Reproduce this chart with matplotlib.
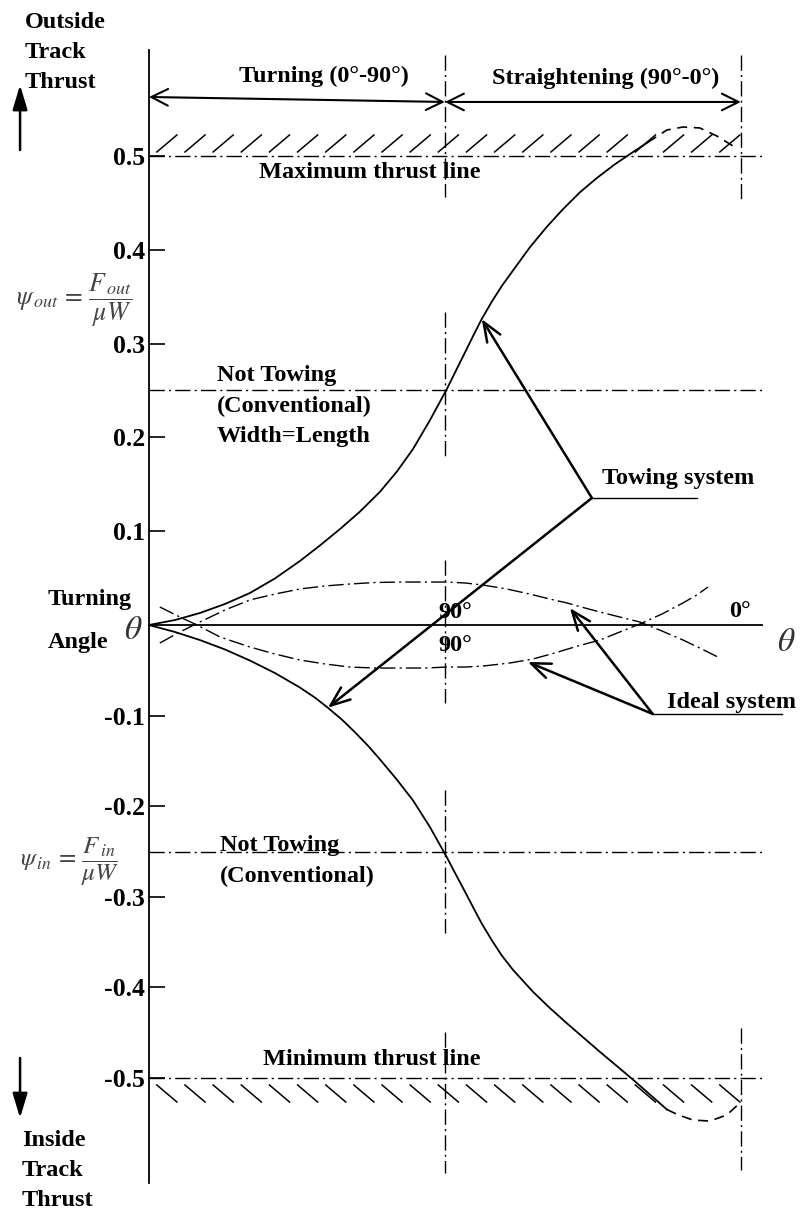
import numpy as np
import matplotlib
matplotlib.use("Agg")
import matplotlib.pyplot as plt

plt.rcParams['font.family'] = ['Liberation Serif', 'DejaVu Serif']
plt.rcParams['mathtext.fontset'] = 'stix'

# theta runs 0-90 while turning, then 90-0 while straightening (plotted as 90-180)
tow_out_x = [0, 7.9, 15.5, 23.1, 30.7, 38.3, 45.9, 52.0, 58.1, 64.2, 70.2, 75.4, 80.3,
             85.4, 90.6, 93.3, 96.1, 98.8, 101.2, 104.3, 107.3, 110.7, 115.8, 121.0,
             125.9, 131.0, 136.2, 141.7, 147.2, 151.7]
tow_out_y = [0, 0.0053, 0.0128, 0.0224, 0.0341, 0.0496, 0.0682, 0.0848, 0.1023, 0.1210,
             0.1418, 0.1636, 0.1876, 0.2180, 0.2516, 0.2708, 0.2905, 0.3097, 0.3262,
             0.3449, 0.3614, 0.3779, 0.4025, 0.4245, 0.4433, 0.4611, 0.4765, 0.4912,
             0.5042, 0.5145]
tow_out_ext_x = [151.7, 157.5, 162.4, 167.5, 172.7, 177.6]
tow_out_ext_y = [0.5145, 0.5277, 0.5309, 0.5299, 0.5213, 0.5107]

tow_in_x = [0, 7.9, 15.5, 23.1, 30.7, 38.3, 45.9, 50.5, 54.4, 58.7, 62.6, 66.6, 70.2,
            75.4, 80.3, 85.4, 90.6, 93.3, 96.1, 98.8, 101.2, 104.3, 107.3, 110.7, 116.8,
            121.9, 127.1, 132.0, 137.1, 142.3, 147.2, 152.3, 157.5]
tow_in_y = [0, -0.0077, -0.0166, -0.0270, -0.0392, -0.0530, -0.0690, -0.0802, -0.0913,
            -0.1045, -0.1182, -0.1332, -0.1481, -0.1707, -0.1936, -0.2227, -0.2565,
            -0.2752, -0.2943, -0.3131, -0.3295, -0.3482, -0.3648, -0.3806, -0.4049,
            -0.4227, -0.4396, -0.4550, -0.4710, -0.4868, -0.5018, -0.5181, -0.5347]
tow_in_ext_x = [157.5, 160.5, 165.4, 170.6, 175.7, 179.7]
tow_in_ext_y = [-0.5347, -0.5400, -0.5464, -0.5475, -0.5408, -0.5276]

ideal_out_x = [3.3, 9.4, 15.5, 23.1, 30.7, 38.3, 45.9, 53.5, 61.1, 68.7, 76.3, 83.9, 90.6,
               96.1, 101.6, 108.8, 115.8, 121.9, 127.1, 132.6, 137.1, 143.2, 149.3, 156.0,
               162.4, 167.5, 173.0]
ideal_out_y = [-0.0199, -0.0077, 0.0032, 0.0160, 0.0267, 0.0330, 0.0384, 0.0416, 0.0437,
               0.0453, 0.0458, 0.0458, 0.0458, 0.0448, 0.0426, 0.0384, 0.0330, 0.0277,
               0.0235, 0.0181, 0.0139, 0.0085, 0.0032, -0.0066, -0.0166, -0.0254, -0.0353]
ideal_in_x = [3.3, 9.4, 14.6, 21.6, 30.7, 38.3, 45.9, 53.5, 61.1, 68.7, 76.3, 83.9, 90.6,
              96.1, 101.6, 109.8, 116.8, 123.4, 130.4, 137.1, 143.2, 149.3, 156.0, 162.4,
              166.6, 170.0]
ideal_in_y = [0.0192, 0.0085, 0, -0.0132, -0.0243, -0.0320, -0.0386, -0.0430, -0.0464,
              -0.0475, -0.0475, -0.0475, -0.0464, -0.0464, -0.0453, -0.0419, -0.0375,
              -0.0309, -0.0232, -0.0166, -0.0077, 0.0011, 0.0117, 0.0235, 0.0320, 0.0405]

max_thrust = 0.5
min_thrust = -0.5
conv_out = 0.25
conv_in = -0.25
y_ticks = [-0.5, -0.4, -0.3, -0.2, -0.1, 0.1, 0.2, 0.3, 0.4, 0.5]
y_tick_labels = ['-0.5', '-0.4', '-0.3', '-0.2', '-0.1', '0.1', '0.2', '0.3', '0.4', '0.5']

dashdot = (0, (11, 3, 1.5, 3))
bold = dict(fontweight='bold', fontsize=17.5, color='black')


# the outside-thrust half is drawn a little taller than the inside half
def stretch(y):
    y = np.asarray(y, dtype=float)
    return np.where(y > 0, y * 938 / 906, y)


def unstretch(u):
    u = np.asarray(u, dtype=float)
    return np.where(u > 0, u * 906 / 938, u)


fig = plt.figure(figsize=(8.03, 12.16), dpi=100)
ax = fig.add_axes([0, 0, 1, 1])
ax.set_yscale('function', functions=(stretch, unstretch))
ax.set_xlim(-45.3, 198.9)
ax.set_ylim(-0.6523, 0.6663)

# axes through the origin
for s in ['top', 'right']:
    ax.spines[s].set_visible(False)
ax.spines['left'].set_position(('data', 0))
ax.spines['bottom'].set_position(('data', 0))
ax.spines['left'].set_bounds(-0.6159, 0.613)
ax.spines['bottom'].set_bounds(0, 186.4)
ax.spines['left'].set_linewidth(1.3)
ax.spines['bottom'].set_linewidth(1.3)
ax.set_xticks([])
ax.set_yticks(y_ticks)
ax.set_yticklabels(y_tick_labels)
ax.yaxis.set_minor_locator(plt.NullLocator())
ax.tick_params(axis='y', direction='in', length=11.5, width=1.2, pad=3, labelsize=18.5)
for lab in ax.get_yticklabels():
    lab.set_fontweight('bold')

# thrust limits and conventional levels
for yv in [max_thrust, min_thrust, conv_out, conv_in]:
    ax.plot([0, 186.4], [yv, yv], color='black', lw=1, ls=dashdot)

# vertical markers at 90 and at the end of straightening
for y0, y1 in [(0.6077, 0.4563), (0.3337, 0.1791), (0.0693, -0.0861),
               (-0.1821, -0.3400), (-0.4492, -0.6049)]:
    ax.plot([90, 90], [y0, y1], color='black', lw=1, ls=dashdot)
for y0, y1 in [(0.6077, 0.4531), (-0.4448, -0.6015)]:
    ax.plot([180, 180], [y0, y1], color='black', lw=1, ls=dashdot)

# hatching outside the thrust limits
hatch_x = 2.4 + 8.56 * np.arange(21)
for hx in hatch_x:
    ax.plot([hx, hx + 6.1], [max_thrust + 0.0043, max_thrust + 0.0224], color='black', lw=1.1)
    ax.plot([hx, hx + 6.1], [min_thrust - 0.0077, min_thrust - 0.0265], color='black', lw=1.1)

# towing system curves
ax.plot(tow_out_x, tow_out_y, color='black', lw=1.3)
ax.plot(tow_out_ext_x, tow_out_ext_y, color='black', lw=1.2, ls=(0, (6, 4)))
ax.plot(tow_in_x, tow_in_y, color='black', lw=1.3)
ax.plot(tow_in_ext_x, tow_in_ext_y, color='black', lw=1.2, ls=(0, (6, 4)))

# ideal system curves
ax.plot(ideal_out_x, ideal_out_y, color='black', lw=1, ls=dashdot)
ax.plot(ideal_in_x, ideal_in_y, color='black', lw=1, ls=dashdot)

# range arrows on top
arr = dict(arrowstyle='<->,head_length=1.2,head_width=0.6', color='black', lw=1.5,
           shrinkA=0, shrinkB=0, mutation_scale=10)
ax.annotate('', xy=(0, 0.5629), xytext=(90, 0.5576), arrowprops=arr)
ax.annotate('', xy=(90, 0.5576), xytext=(180, 0.5576), arrowprops=arr)
ax.text(53.2, 0.5853, 'Turning (0°-90°)', ha='center', va='center', **bold)
ax.text(139.0, 0.5832, 'Straightening (90°-0°)', ha='center', va='center', **bold)

ax.text(67.2, 0.4829, 'Maximum thrust line', ha='center', va='center', **bold)
ax.text(67.8, -0.4801, 'Minimum thrust line', ha='center', va='center', **bold)
ax.text(20.7, 0.2772, 'Not Towing\n(Conventional)\nWidth=Length', ha='left', va='top',
        linespacing=1.6, **bold)
ax.text(21.6, -0.2318, 'Not Towing\n(Conventional)', ha='left', va='top',
        linespacing=1.6, **bold)

# leader arrows
lead = dict(arrowstyle='->,head_length=1.4,head_width=0.55', color='black', lw=1.8,
            shrinkA=0, shrinkB=0, mutation_scale=10)
ax.annotate('', xy=(101.2, 0.3262), xytext=(134.7, 0.1354), arrowprops=lead)
ax.annotate('', xy=(54.4, -0.0913), xytext=(134.7, 0.1354), arrowprops=lead)
ax.plot([134.7, 166.6], [0.1354, 0.1354], color='black', lw=1)
ax.text(137.7, 0.1567, 'Towing system', ha='left', va='center', **bold)

ax.annotate('', xy=(128.0, 0.0181), xytext=(153.2, -0.0982), arrowprops=lead)
ax.annotate('', xy=(115.2, -0.0408), xytext=(153.2, -0.0982), arrowprops=lead)
ax.plot([153.2, 192.5], [-0.0982, -0.0982], color='black', lw=1)
ax.text(157.5, -0.0850, 'Ideal system', ha='left', va='center', **bold)

# angle marks on the theta axis
ax.text(93.0, 0.0128, '90°', ha='center', va='center', **bold)
ax.text(93.0, -0.0221, '90°', ha='center', va='center', **bold)
ax.text(179.7, 0.0139, '0°', ha='center', va='center', **bold)
ax.text(193.7, -0.0199, r'$\theta$', ha='center', va='center', fontsize=24, color='#333333')
ax.text(-4.9, -0.0066, r'$\theta$', ha='center', va='center', fontsize=24, color='#333333')
ax.text(-30.7, 0.0277, 'Turning', ha='left', va='center', **bold)
ax.text(-30.9, -0.0188, 'Angle', ha='left', va='center', **bold)

# thrust direction labels
ax.text(-37.7, 0.6535, 'Outside\nTrack\nThrust', ha='left', va='top', linespacing=1.55, **bold)
ax.text(-38.6, -0.5574, 'Inside\nTrack\nThrust', ha='left', va='top', linespacing=1.55, **bold)
head = dict(arrowstyle='-|>,head_length=1.5,head_width=0.45', color='black', lw=1.8,
            shrinkA=0, shrinkB=0, mutation_scale=10)
ax.annotate('', xy=(-39.2, 0.5757), xytext=(-39.2, 0.5064), arrowprops=head)
ax.annotate('', xy=(-39.2, -0.5442), xytext=(-39.2, -0.4779), arrowprops=head)

ax.text(-22.6, 0.3465, r'$\psi_{\,out} \,=\, \dfrac{F_{\,out}}{\mu W}$', ha='center',
        va='center', fontsize=18.5, color='#444444')
ax.text(-24.0, -0.2620, r'$\psi_{\,in} \,=\, \dfrac{F_{\,in}}{\mu W}$', ha='center',
        va='center', fontsize=18, color='#444444')

fig.savefig('out.png', dpi=100)
